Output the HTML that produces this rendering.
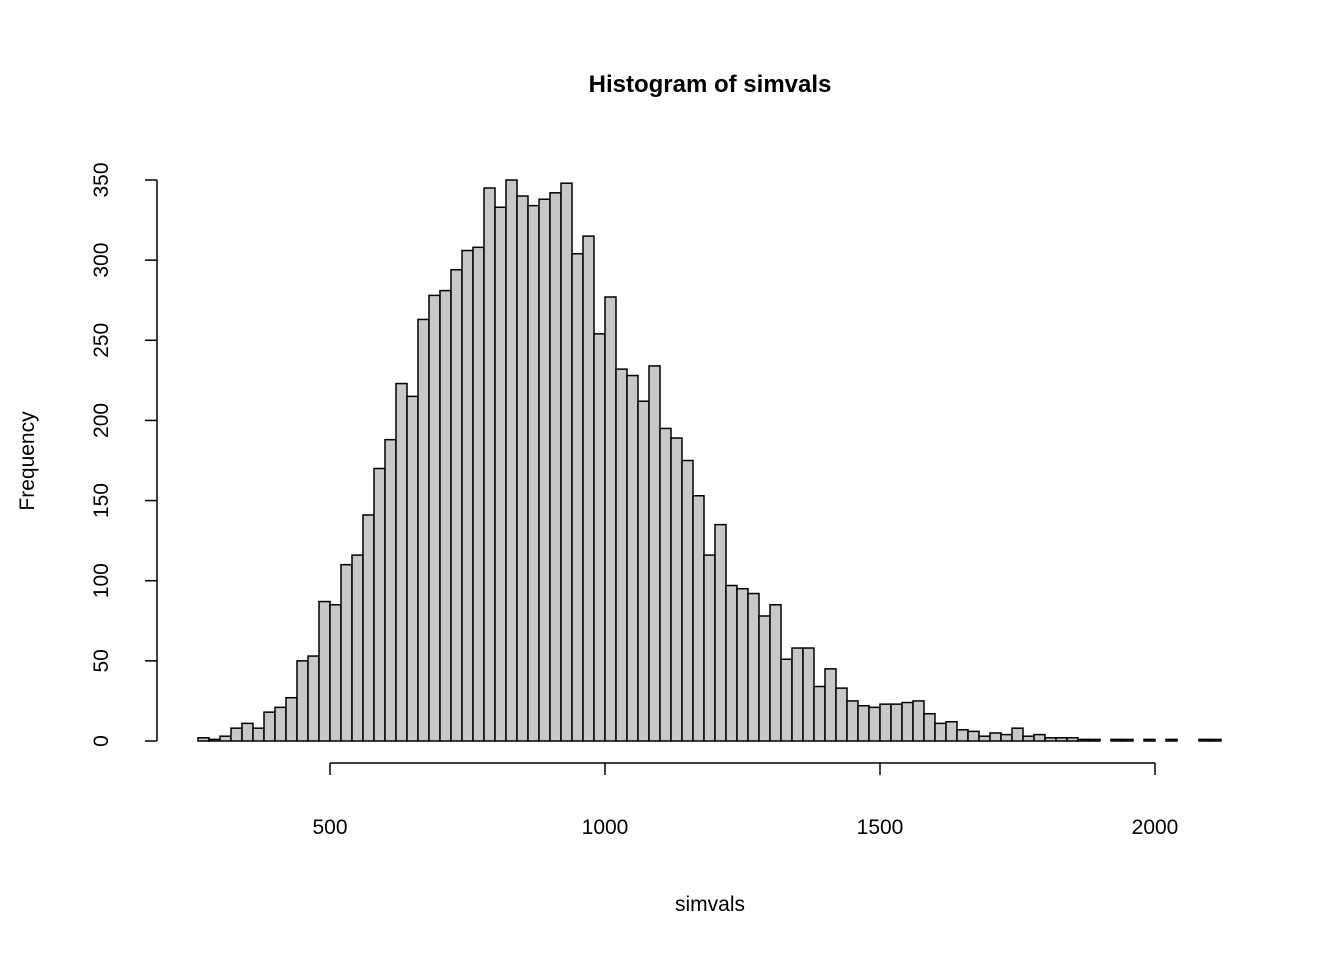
<!DOCTYPE html>
<html><head><meta charset="utf-8"><style>body{margin:0;background:#fff}svg{display:block;font-family:"Liberation Sans",Arial,sans-serif}</style></head>
<body>
<svg id="chart" width="1344" height="960" viewBox="0 0 1344 960">
<text x="710" y="92" text-anchor="middle" font-size="24" font-weight="bold">Histogram of simvals</text>
<text x="710" y="911" text-anchor="middle" font-size="21">simvals</text>
<text transform="translate(34,461) rotate(-90)" text-anchor="middle" font-size="21">Frequency</text>
<g id="bars"></g>
<g id="xaxis"></g>
<g id="yaxis"></g>
</svg>
<script>
const binStart = 260;
const binWidth = 20;
const counts = [2,1,3,8,11,8,18,21,27,50,53,87,85,110,116,141,170,188,223,215,263,278,281,294,306,308,345,333,350,340,334,338,342,348,304,315,254,277,232,228,212,234,195,189,175,153,116,135,97,95,92,78,85,51,58,58,34,45,33,25,22,21,23,23,24,25,17,11,12,7,6,3,5,4,8,3,4,2,2,2,1,1,0,1,1,0,1,0,1,0,0,1,1];
const xTicks = [500,1000,1500,2000];
const yTicks = [0,50,100,150,200,250,300,350];
const NS='http://www.w3.org/2000/svg';
const xs = v => 330 + (v-500)*0.55;
const ys = v => 741 - v*(561/350);
function mk(tag, attrs, parent){const e=document.createElementNS(NS,tag);for(const k in attrs)e.setAttribute(k,attrs[k]);parent.appendChild(e);return e;}
const bars=document.getElementById('bars');
counts.forEach((c,i)=>{
  const x0=xs(binStart+i*binWidth), x1=xs(binStart+(i+1)*binWidth);
  const r=mk('rect',{x:x0,y:ys(c),width:x1-x0,height:ys(0)-ys(c),fill:'#c8c8c8',stroke:'#000','stroke-width':1.5},bars);
  
  
});
const xa=document.getElementById('xaxis');
mk('line',{x1:xs(xTicks[0]),x2:xs(xTicks[xTicks.length-1]),y1:763,y2:763,stroke:'#000','stroke-width':1.5},xa);
xTicks.forEach(t=>{
  mk('line',{x1:xs(t),x2:xs(t),y1:763,y2:775,stroke:'#000','stroke-width':1.5},xa);
  const tx=mk('text',{x:xs(t),y:834,'text-anchor':'middle','font-size':21},xa);tx.textContent=t;
  
  
});
const ya=document.getElementById('yaxis');
mk('line',{x1:157,x2:157,y1:ys(yTicks[yTicks.length-1]),y2:ys(0),stroke:'#000','stroke-width':1.5},ya);
yTicks.forEach(t=>{
  mk('line',{x1:145,x2:157,y1:ys(t),y2:ys(t),stroke:'#000','stroke-width':1.5},ya);
  const tx=mk('text',{transform:`translate(108,${ys(t)}) rotate(-90)`,'text-anchor':'middle','font-size':21},ya);tx.textContent=t;
  
  
});
</script>
</body></html>
